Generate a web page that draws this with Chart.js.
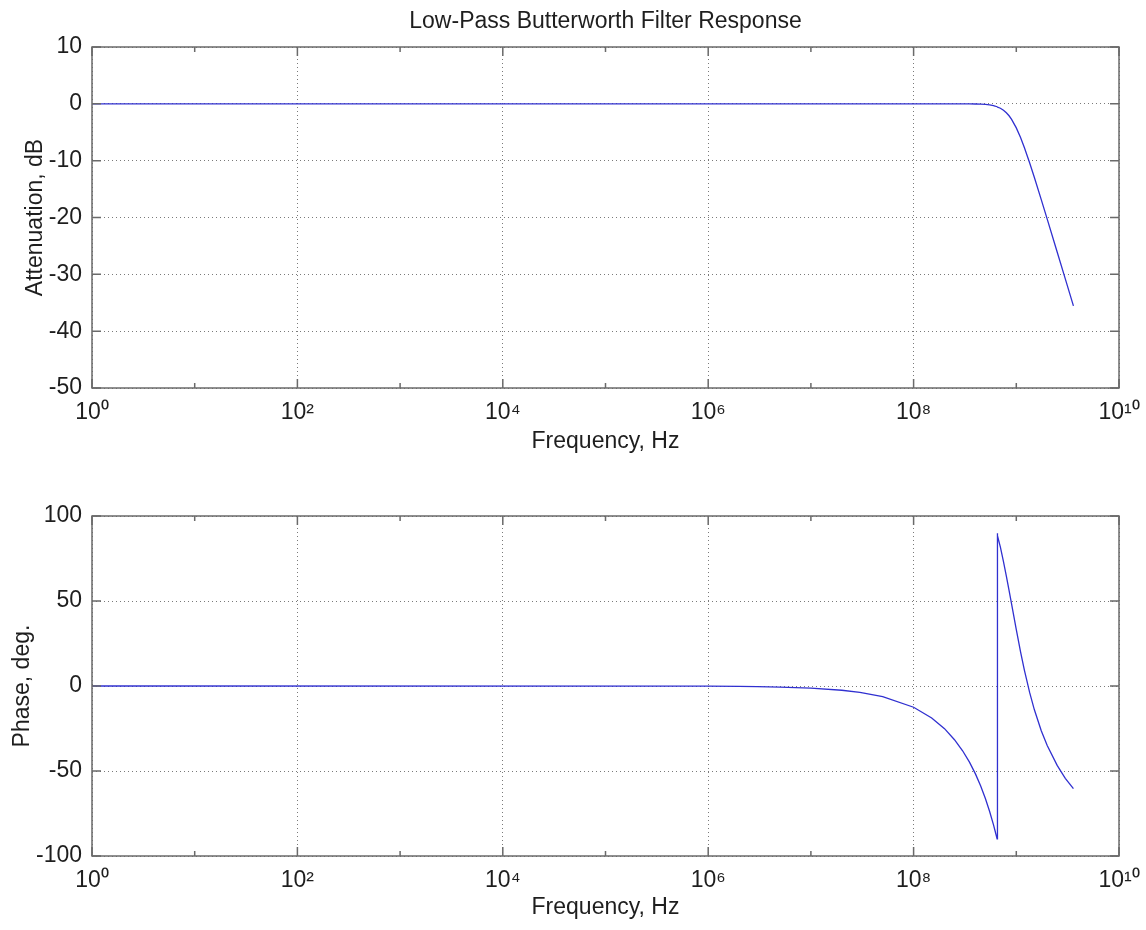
<!DOCTYPE html>
<html>
<head>
<meta charset="utf-8">
<script src="https://cdn.jsdelivr.net/npm/chart.js@4"></script>
<style>
  body { margin: 0; background: #fff; }
  .box { position: absolute; left: 0; width: 1146px; height: 465px; }
</style>
</head>
<body>
<div class="box" style="top:0"><canvas id="magChart" width="1146" height="465"></canvas></div>
<div class="box" style="top:465px"><canvas id="phaseChart" width="1146" height="465"></canvas></div>
<script>
// frequency points (Hz)
const freqHz = [1, 1e6, 2e6, 3e6, 5e6, 1e7, 2e7, 3e7, 5e7, 1e8, 1.5e8, 2e8, 2.5e8, 3e8, 3.5e8,
  4e8, 4.5e8, 5e8, 5.5e8, 6e8, 6.2e8, 6.4e8, 6.5e8, 6.51e8, 6.6e8, 7e8, 7.5e8, 8e8, 8.5e8,
  9e8, 1e9, 1.1e9, 1.2e9, 1.35e9, 1.5e9, 1.75e9, 2e9, 2.5e9, 3e9, 3.6e9];

// attenuation, dB
const attenDb = [0, 0, 0, 0, 0, 0, 0, 0, 0, 0, 0, 0, -0.002, -0.005, -0.013,
  -0.029, -0.059, -0.11, -0.19, -0.32, -0.39, -0.47, -0.51, -0.51, -0.56, -0.77, -1.12, -1.56, -2.1,
  -2.73, -4.23, -5.94, -7.73, -10.41, -12.96, -16.85, -20.28, -26.06, -30.8, -35.55];

// phase, deg.
const phaseDeg = [0, -0.12, -0.25, -0.37, -0.62, -1.25, -2.49, -3.74, -6.23, -12.5, -18.8, -25.1, -31.6, -38.1, -44.8,
  -51.7, -58.8, -66.2, -73.8, -81.7, -85.0, -88.3, -89.9, 89.9, 88.4, 81.7, 73.2, 64.7, 56.3,
  48.1, 33.1, 20.1, 9.2, -3.9, -14.0, -26.3, -35.0, -46.7, -54.3, -60.4];

const decadeTicks = [1, 1e1, 1e2, 1e3, 1e4, 1e5, 1e6, 1e7, 1e8, 1e9, 1e10];
const decadeLabels = ['10\u2070', '', '10\u00B2', '', '10\u2074', '', '10\u2076', '', '10\u2078', '', '10\u00B9\u2070'];

const FONT = { family: "'Liberation Sans', Arial, sans-serif", size: 23 };
const TEXT = '#1e1e1e';

function isEvenDecade(v) {
  return Math.round(Math.log10(v)) % 2 === 0;
}

// box around the axes and inward ticks, matlab style
const boxPlugin = {
  id: 'matlabBox',
  afterDraw(chart) {
    const { ctx, chartArea: a, scales: { x, y } } = chart;
    ctx.save();
    ctx.strokeStyle = '#6a6a6a';
    ctx.lineWidth = 1.5;
    ctx.strokeRect(a.left, a.top, a.right - a.left, a.bottom - a.top);
    ctx.beginPath();
    x.ticks.forEach(t => {
      const px = x.getPixelForValue(t.value);
      const len = isEvenDecade(t.value) ? 9 : 5;
      ctx.moveTo(px, a.bottom); ctx.lineTo(px, a.bottom - len);
      ctx.moveTo(px, a.top); ctx.lineTo(px, a.top + len);
    });
    y.ticks.forEach(t => {
      const py = y.getPixelForValue(t.value);
      ctx.moveTo(a.left, py); ctx.lineTo(a.left + 9, py);
      ctx.moveTo(a.right, py); ctx.lineTo(a.right - 9, py);
    });
    ctx.stroke();
    ctx.restore();
  }
};

function makeChart(id, values, yMin, yMax, yStep, yTitle, opts) {
  const points = freqHz.map((f, i) => ({ x: f, y: values[i] }));
  const scales = {
    x: {
      type: 'logarithmic',
      min: 1,
      max: 1e10,
      afterBuildTicks: scale => {
        scale.ticks = decadeTicks.map(v => ({ value: v }));
      },
      afterFit: scale => {
        scale.height = opts.xHeight;
        scale.paddingLeft = 0;
        scale.paddingRight = 0;
      },
      ticks: {
        autoSkip: false,
        maxRotation: 0,
        color: TEXT,
        font: FONT,
        padding: 11.2,
        callback: (v, i) => decadeLabels[i]
      },
      grid: {
        drawTicks: false,
        color: ctx => (ctx.tick && isEvenDecade(ctx.tick.value)) ? '#7a7a7a' : 'rgba(0,0,0,0)',
        lineWidth: 1
      },
      border: { display: false, dash: [1, 3] },
      title: {
        display: true,
        text: 'Frequency, Hz',
        color: TEXT,
        font: FONT,
        padding: { top: 0, bottom: opts.xTitlePad }
      }
    },
    y: {
      min: yMin,
      max: yMax,
      afterFit: scale => { scale.width = 92; },
      ticks: {
        stepSize: yStep,
        color: TEXT,
        font: FONT,
        padding: 10
      },
      grid: {
        drawTicks: false,
        color: '#7a7a7a',
        lineWidth: 1
      },
      border: { display: false, dash: [1, 3] },
      title: {
        display: true,
        text: yTitle,
        color: TEXT,
        font: FONT,
        padding: { top: opts.yTitlePad, bottom: 0 }
      }
    }
  };
  if (opts.title) {
    // empty top axis that only carries the title, centred over the plot box
    scales.top = {
      type: 'linear',
      axis: 'x',
      position: 'top',
      afterFit: scale => { scale.height = 47; },
      ticks: { display: false },
      grid: { display: false, drawTicks: false },
      border: { display: false },
      title: {
        display: true,
        text: opts.title,
        color: TEXT,
        font: FONT,
        padding: { top: 8.2, bottom: 0 }
      }
    };
  }
  return new Chart(document.getElementById(id), {
    type: 'scatter',
    data: {
      datasets: [{
        data: points,
        showLine: true,
        pointRadius: 0,
        borderColor: '#3030d0',
        borderWidth: 1.3,
        tension: 0
      }]
    },
    options: {
      responsive: false,
      animation: false,
      layout: { padding: { left: 0, right: 27, top: opts.padTop, bottom: 0 } },
      plugins: {
        legend: { display: false },
        tooltip: { enabled: false }
      },
      scales: scales
    },
    plugins: [boxPlugin]
  });
}

makeChart('magChart', attenDb, -50, 10, 10, 'Attenuation, dB', {
  title: 'Low-Pass Butterworth Filter Response',
  padTop: 0, xHeight: 77, xTitlePad: 9.2, yTitlePad: 22.2
});

makeChart('phaseChart', phaseDeg, -100, 100, 50, 'Phase, deg.', {
  title: null,
  padTop: 51, xHeight: 74, xTitlePad: 8.2, yTitlePad: 9.2
});
</script>
</body>
</html>
